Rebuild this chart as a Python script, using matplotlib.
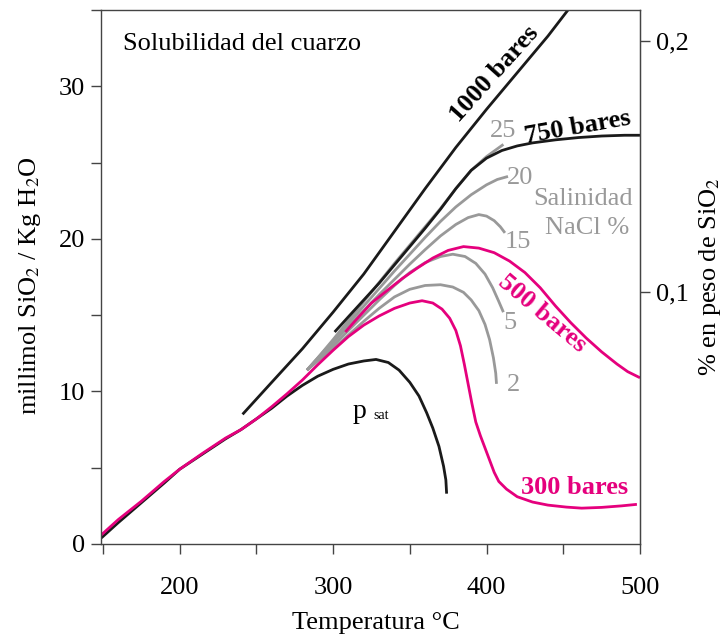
import matplotlib.pyplot as plt
from matplotlib.ticker import MultipleLocator

plt.rcParams['font.family'] = ['Liberation Serif', 'DejaVu Serif']
plt.rcParams['mathtext.fontset'] = 'stix'
plt.rcParams['lines.solid_joinstyle'] = 'round'
plt.rcParams['lines.solid_capstyle'] = 'butt'

pink = '#E5007D'
gray = '#999999'
black = '#1a1a1a'
fs = 19

# curves: temperature (C), millimol SiO2 / kg H2O
psat_t = [149, 160, 175, 190, 200, 215, 230, 240, 250, 260, 270, 280, 290, 300, 310, 320, 328,
          336, 343, 350, 356, 361, 365, 369, 372, 373.5, 374]
psat_c = [0.4, 1.4, 2.7, 4.0, 4.9, 5.9, 6.9, 7.5, 8.2, 8.9, 9.7, 10.4, 11.0, 11.45, 11.8, 12.0, 12.1,
          11.9, 11.4, 10.6, 9.7, 8.6, 7.6, 6.4, 5.1, 4.2, 3.3]

p300_t = [149, 160, 175, 190, 200, 215, 230, 240, 250, 260, 270, 280, 290, 300, 310, 320, 330, 340,
          350, 358, 365, 371, 376, 380, 383, 385.5, 388, 390.5, 393, 396, 399, 402, 405, 408, 413,
          420, 430, 440, 452, 462, 475, 488, 498]
p300_c = [0.6, 1.6, 2.8, 4.1, 4.9, 5.95, 6.95, 7.5, 8.2, 9.0, 9.85, 10.75, 11.75, 12.7, 13.6, 14.35,
          14.95, 15.45, 15.8, 15.95, 15.8, 15.4, 14.8, 14.0, 13.0, 11.8, 10.5, 9.2, 8.0, 7.1, 6.3,
          5.5, 4.7, 4.1, 3.6, 3.1, 2.75, 2.55, 2.42, 2.35, 2.4, 2.5, 2.6]

p500_t = [308, 315, 325, 335, 345, 355, 365, 375, 385, 395, 405, 415, 425, 435, 445, 455, 465, 475,
          485, 492, 500]
p500_c = [13.9, 14.7, 15.8, 16.6, 17.4, 18.1, 18.75, 19.25, 19.5, 19.4, 19.1, 18.55, 17.8, 16.8,
          15.6, 14.5, 13.5, 12.6, 11.8, 11.3, 10.9]

p750_t = [301, 310, 320, 330, 340, 350, 360, 370, 380, 390, 400, 410, 420, 430, 445, 460, 475, 490, 500]
p750_c = [13.9, 14.9, 16.0, 17.1, 18.3, 19.5, 20.7, 21.95, 23.3, 24.5, 25.3, 25.8, 26.1, 26.3, 26.5,
          26.65, 26.75, 26.8, 26.8]

p1000_t = [241, 260, 280, 300, 320, 340, 360, 380, 400, 420, 440, 453]
p1000_c = [8.5, 10.6, 12.8, 15.2, 17.7, 20.5, 23.3, 26.0, 28.5, 30.9, 33.3, 35.0]

sal_t = {
    '25': [283, 290, 300, 310, 320, 330, 340, 350, 360, 370, 380, 390, 400, 411],
    '20': [283, 290, 300, 310, 320, 330, 340, 350, 360, 370, 380, 390, 400, 407, 414],
    '15': [283, 290, 300, 310, 320, 330, 340, 350, 360, 370, 380, 388, 395, 400, 405, 409, 412],
    '5': [283, 290, 300, 310, 320, 330, 340, 350, 360, 370, 378, 386, 393, 399, 404, 408, 411],
    '2': [283, 290, 300, 310, 320, 330, 340, 350, 360, 370, 378, 385, 390, 395, 399, 402, 404.5,
          406, 406.5],
}
sal_c = {
    '25': [11.4, 12.2, 13.4, 14.65, 15.9, 17.15, 18.4, 19.6, 20.8, 22.0, 23.3, 24.5, 25.4, 26.2],
    '20': [11.4, 12.2, 13.3, 14.45, 15.6, 16.75, 17.9, 19.0, 20.1, 21.15, 22.1, 22.9, 23.55, 23.9, 24.1],
    '15': [11.4, 12.15, 13.2, 14.25, 15.3, 16.35, 17.35, 18.35, 19.3, 20.2, 20.95, 21.4, 21.6, 21.5,
           21.2, 20.8, 20.4],
    '5': [11.4, 12.1, 13.0, 14.0, 15.0, 16.0, 16.95, 17.8, 18.45, 18.85, 19.0, 18.85, 18.4, 17.7,
          16.8, 15.9, 15.2],
    '2': [11.4, 12.0, 12.8, 13.7, 14.6, 15.45, 16.2, 16.7, 16.95, 17.0, 16.85, 16.5, 16.0, 15.3,
          14.4, 13.4, 12.2, 11.2, 10.5],
}
sal_label_pos = {'25': (410.6, 27.1), '20': (421.6, 24.0), '15': (420.3, 19.8),
                 '5': (415.1, 14.5), '2': (417.7, 10.4)}

fig = plt.figure(figsize=(7.26, 6.37), dpi=100)
ax = fig.add_axes([0.139, 0.146, 0.7425, 0.838])

for k in sal_t:
    ax.plot(sal_t[k], sal_c[k], color=gray, lw=2)
    ax.text(*sal_label_pos[k], k, color=gray, fontsize=fs, ha='center', va='center')

ax.plot(psat_t, psat_c, color=black, lw=2)
ax.plot(p1000_t, p1000_c, color=black, lw=2)
ax.plot(p750_t, p750_c, color=black, lw=2)
ax.plot(p300_t, p300_c, color=pink, lw=2)
ax.plot(p500_t, p500_c, color=pink, lw=2)

ax.set_xlim(148.7, 500)
ax.set_ylim(0, 35)

ax.xaxis.set_minor_locator(MultipleLocator(50))
ax.yaxis.set_major_locator(MultipleLocator(10))
ax.yaxis.set_minor_locator(MultipleLocator(5))
ax.set_xticks([200, 300, 400, 500])
ax.tick_params(which='both', direction='out', length=7.5, width=1, color='#444444', labelsize=fs)
ax.tick_params(axis='x', pad=16)
ax.tick_params(axis='y', pad=4)
for s in ax.spines.values():
    s.set_color('#444444')
    s.set_linewidth(1)

ax.set_xlabel('Temperatura °C', fontsize=fs)
ax.xaxis.set_label_coords(0.51, -0.127)
ax.set_ylabel('millimol SiO$_2$ / Kg H$_2$O', fontsize=fs)
ax.yaxis.set_label_coords(-0.108, 0.483)

sec = ax.secondary_yaxis('right', functions=(lambda y: y / 165, lambda p: p * 165))
sec.set_yticks([0.1, 0.2])
sec.set_yticklabels(['0,1', '0,2'])
sec.tick_params(direction='out', length=7.5, width=1, color='#444444', labelsize=fs, pad=4)
sec.spines['right'].set_color('#444444')
sec.set_ylabel('% en peso de SiO$_2$', fontsize=fs, labelpad=6)

ax.text(163, 32.8, 'Solubilidad del cuarzo', fontsize=fs, ha='left', va='center')
ax.text(405.4, 30.8, '1000 bares', fontsize=fs, fontweight='bold', rotation=48,
        ha='center', va='center', rotation_mode='anchor')
ax.text(459.5, 27.3, '750 bares', fontsize=fs, fontweight='bold', rotation=10,
        ha='center', va='center', rotation_mode='anchor')
ax.text(436.6, 15.1, '500 bares', fontsize=fs, fontweight='bold', rotation=-40,
        color=pink, ha='center', va='center', rotation_mode='anchor')
ax.text(457.5, 3.7, '300 bares', fontsize=fs, fontweight='bold', color=pink,
        ha='center', va='center')
ax.text(462.7, 22.6, 'Salinidad', fontsize=fs, color=gray, ha='center', va='center')
ax.text(465.3, 20.7, 'NaCl %', fontsize=fs, color=gray, ha='center', va='center')
ax.text(317.5, 8.7, 'p', fontsize=fs + 1, ha='center', va='center')
ax.text(331.5, 8.4, 'sat', fontsize=10, ha='center', va='center')

fig.savefig('out.png', dpi=100)
